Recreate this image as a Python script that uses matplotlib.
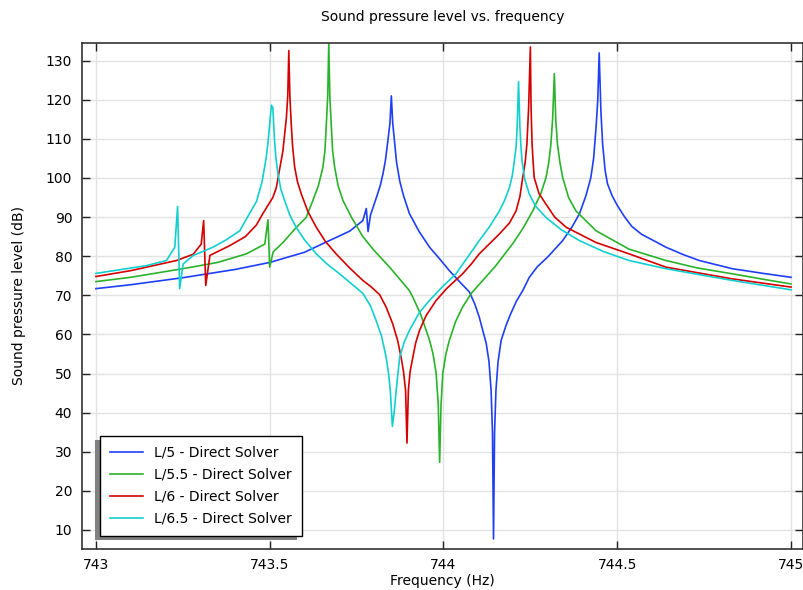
import matplotlib
matplotlib.use("Agg")
import matplotlib.pyplot as plt
from matplotlib.patches import Rectangle
from matplotlib.transforms import IdentityTransform
from matplotlib.ticker import FixedLocator, FuncFormatter

# values (frequency in Hz, level in dB)
freq_l5 = [743.0, 743.1, 743.25, 743.4, 743.5, 743.6, 743.672, 743.73, 743.768, 743.778,
           743.783, 743.79, 743.807, 743.818, 743.826, 743.833, 743.84, 743.846, 743.85, 743.854,
           743.859, 743.865, 743.874, 743.885, 743.902, 743.93, 743.96, 743.99, 744.017, 744.045,
           744.075, 744.09, 744.103, 744.123, 744.131, 744.137, 744.141, 744.144, 744.147, 744.151,
           744.157, 744.166, 744.18, 744.194, 744.21, 744.228, 744.247, 744.27, 744.3, 744.343,
           744.37, 744.391, 744.41, 744.424, 744.432, 744.439, 744.444, 744.448, 744.453, 744.458,
           744.465, 744.472, 744.485, 744.5, 744.52, 744.542, 744.57, 744.6, 744.64, 744.69,
           744.736, 744.831, 744.92, 745.0]
spl_l5 = [71.7, 72.7, 74.5, 76.6, 78.4, 81.0, 84.0, 86.4, 89.1, 92.2,
          86.3, 90.5, 95.0, 98.0, 101.1, 104.5, 109.5, 114.0, 121.0, 114.0,
          109.5, 104.0, 99.3, 95.5, 90.9, 86.3, 82.3, 79.2, 76.3, 73.6,
          70.8, 67.8, 64.4, 57.7, 53.0, 45.7, 35.0, 7.7, 35.0, 45.7,
          53.0, 58.5, 62.3, 65.4, 68.5, 71.2, 74.6, 77.3, 79.8, 84.0,
          87.5, 90.8, 95.5, 100.1, 105.0, 112.9, 120.0, 132.0, 117.0, 108.6,
          102.0, 98.5, 95.5, 93.0, 90.2, 87.6, 85.6, 84.2, 82.3, 80.4,
          78.9, 76.8, 75.6, 74.6]

freq_l55 = [743.0, 743.1, 743.25, 743.35, 743.433, 743.486, 743.495, 743.5, 743.51, 743.538,
            743.577, 743.605, 743.624, 743.64, 743.653, 743.659, 743.663, 743.667, 743.67, 743.673,
            743.677, 743.681, 743.687, 743.697, 743.711, 743.735, 743.768, 743.8, 743.845, 743.902,
            743.912, 743.935, 743.96, 743.97, 743.979, 743.985, 743.989, 743.993, 743.998, 744.007,
            744.017, 744.035, 744.055, 744.08, 744.113, 744.15, 744.2, 744.23, 744.257, 744.28,
            744.295, 744.303, 744.309, 744.314, 744.319, 744.323, 744.328, 744.335, 744.343, 744.36,
            744.381, 744.439, 744.534, 744.64, 744.73, 744.831, 744.92, 745.0]
spl_l55 = [73.5, 74.6, 76.8, 78.4, 80.6, 83.1, 89.3, 77.2, 81.1, 83.5,
           87.4, 89.9, 94.2, 98.0, 102.7, 107.0, 113.8, 121.0, 134.6, 121.0,
           113.8, 107.0, 102.7, 98.0, 94.2, 90.0, 85.0, 81.5, 77.2, 71.2,
           69.5, 65.0, 58.5, 55.0, 50.0, 42.0, 27.3, 42.0, 50.0, 55.0,
           58.5, 63.3, 67.0, 70.5, 73.8, 77.5, 83.3, 87.3, 91.6, 96.0,
           100.1, 104.0, 108.6, 115.0, 126.7, 115.0, 108.6, 104.0, 100.1, 95.0,
           91.6, 86.5, 81.8, 78.9, 77.0, 75.5, 74.1, 72.9]

freq_l6 = [743.0, 743.1, 743.232, 743.28, 743.303, 743.31, 743.316, 743.328, 743.385, 743.43,
           743.462, 743.481, 743.509, 743.519, 743.538, 743.548, 743.552, 743.555, 743.558, 743.562,
           743.566, 743.572, 743.58, 743.591, 743.61, 743.634, 743.66, 743.691, 743.73, 743.768,
           743.79, 743.816, 743.835, 743.854, 743.868, 743.878, 743.885, 743.891, 743.895, 743.899,
           743.904, 743.912, 743.92, 743.931, 743.95, 743.979, 744.01, 744.055, 744.08, 744.103,
           744.161, 744.19, 744.209, 744.22, 744.228, 744.235, 744.24, 744.245, 744.25, 744.252,
           744.255, 744.258, 744.261, 744.275, 744.295, 744.32, 744.353, 744.439, 744.534, 744.64,
           744.831, 745.0]
spl_l6 = [74.8, 76.3, 78.9, 80.5, 83.1, 89.1, 72.5, 80.2, 82.7, 85.0,
          88.0, 91.0, 95.0, 97.5, 106.9, 115.4, 121.0, 132.6, 121.0, 113.8,
          108.0, 102.7, 99.0, 95.9, 91.4, 87.4, 83.8, 80.6, 77.0, 73.8,
          72.3, 70.2, 67.0, 62.7, 58.5, 54.2, 50.5, 45.7, 32.2, 45.7,
          50.5, 54.2, 57.8, 61.0, 64.8, 68.7, 71.8, 75.5, 78.0, 80.6,
          85.7, 88.5, 91.6, 95.3, 100.1, 104.0, 108.6, 118.0, 133.5, 118.0,
          108.6, 104.0, 100.1, 96.0, 93.3, 90.0, 87.4, 83.5, 80.6, 77.2,
          74.2, 72.1]

freq_l65 = [743.0, 743.146, 743.203, 743.227, 743.235, 743.241, 743.251, 743.28, 743.337, 743.375,
            743.414, 743.433, 743.462, 743.478, 743.49, 743.495, 743.5, 743.505, 743.509, 743.514,
            743.518, 743.524, 743.532, 743.543, 743.558, 743.576, 743.6, 743.634, 743.665, 743.701,
            743.768, 743.79, 743.806, 743.822, 743.835, 743.842, 743.847, 743.853, 743.858, 743.864,
            743.869, 743.874, 743.887, 743.902, 743.93, 743.96, 743.995, 744.036, 744.07, 744.103,
            744.133, 744.161, 744.176, 744.19, 744.198, 744.204, 744.209, 744.212, 744.216, 744.22,
            744.223, 744.226, 744.234, 744.247, 744.265, 744.295, 744.34, 744.391, 744.46, 744.534,
            744.64, 744.831, 745.0]
spl_l65 = [75.6, 77.6, 78.9, 82.3, 92.7, 71.7, 78.0, 80.2, 82.3, 84.2,
           86.5, 89.5, 94.0, 99.0, 105.2, 109.0, 113.8, 118.6, 118.0, 109.5,
           105.0, 101.0, 97.2, 94.2, 90.5, 87.4, 84.2, 80.6, 78.0, 75.5,
           70.5, 67.3, 63.6, 59.5, 54.2, 50.0, 45.7, 36.5, 40.0, 45.7,
           50.0, 54.2, 58.0, 61.0, 65.5, 68.7, 72.0, 75.5, 79.8, 84.0,
           87.6, 91.6, 94.3, 97.6, 100.6, 104.4, 108.0, 112.9, 124.6, 112.9,
           108.0, 104.4, 99.6, 95.9, 92.8, 89.9, 86.7, 84.0, 81.2, 78.9,
           76.8, 73.8, 71.4]

labels = ["L/5 - Direct Solver", "L/5.5 - Direct Solver",
          "L/6 - Direct Solver", "L/6.5 - Direct Solver"]
colors = ["#1f3ff5", "#2ab32a", "#d40000", "#12cfcf"]

x_ticks = [743, 743.5, 744, 744.5, 745]
y_ticks = list(range(10, 140, 10))

fig = plt.figure(figsize=(8.04, 5.90), dpi=100)
ax = fig.add_axes([0.102, 0.07, 0.897, 0.857])

series = [(freq_l5, spl_l5), (freq_l55, spl_l55), (freq_l6, spl_l6), (freq_l65, spl_l65)]
for (f, s), lab, c in zip(series, labels, colors):
    ax.plot(f, s, color=c, lw=1.2, label=lab)

ax.set_xlim(742.96, 745.035)
ax.set_ylim(5.2, 134.5)
ax.xaxis.set_major_locator(FixedLocator(x_ticks))
ax.yaxis.set_major_locator(FixedLocator(y_ticks))
ax.xaxis.set_major_formatter(FuncFormatter(lambda v, p: f"{v:g}"))
ax.grid(True, color="#e2e2e2", lw=1)
ax.set_axisbelow(True)
ax.tick_params(direction="in", length=6, width=1, pad=7, top=True, right=True,
               labelsize=10, colors="#222222", labelcolor="black")
for sp in ax.spines.values():
    sp.set_color("#333333")
    sp.set_linewidth(1.2)

ax.set_title("Sound pressure level vs. frequency", fontsize=10, pad=16)
ax.set_xlabel("Frequency (Hz)", fontsize=10, labelpad=1)
ax.set_ylabel("Sound pressure level (dB)", fontsize=10, labelpad=14)

leg = ax.legend(loc="lower left", bbox_to_anchor=(0.025, 0.0257), borderaxespad=0,
                fancybox=False, framealpha=1, edgecolor="black", fontsize=10,
                handlelength=2.4, labelspacing=0.57, borderpad=0.72)
leg.get_frame().set_linewidth(1)

# legend drop shadow, offset down-left like the reference
fig.canvas.draw()
bb = leg.get_window_extent()
shadow = Rectangle((bb.x0 - 5, bb.y0 - 4), bb.width, bb.height, transform=IdentityTransform(),
                   facecolor="#808080", edgecolor="none", zorder=4.9, clip_on=False)
ax.add_patch(shadow)

fig.savefig("out.png", dpi=100)
